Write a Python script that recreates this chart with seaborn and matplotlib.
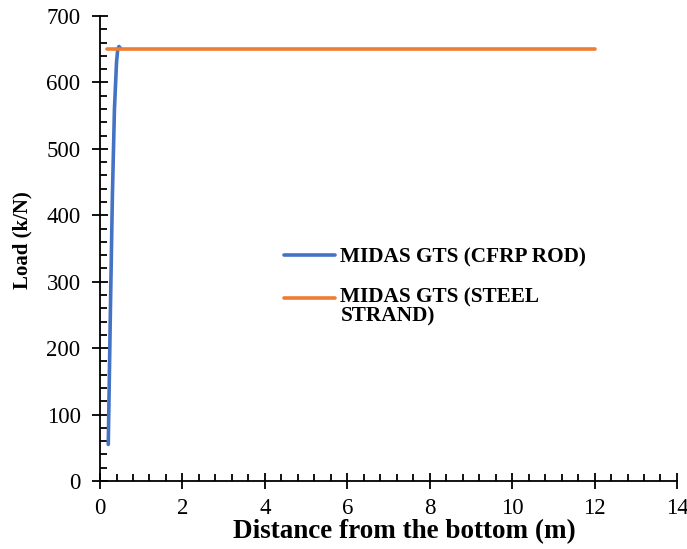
import matplotlib.pyplot as plt
import seaborn as sns
import pandas as pd
from matplotlib.ticker import MultipleLocator

# values
cfrp_dist = [0.2, 0.25, 0.3, 0.35, 0.4, 0.43, 0.46, 0.5]
cfrp_load = [55, 250, 430, 560, 630, 650, 654, 651]
steel_dist = [0.17, 2, 4, 6, 8, 10, 12]
steel_load = [650, 650, 650, 650, 650, 650, 650]

cfrp_label = "MIDAS GTS (CFRP ROD)"
steel_label = "MIDAS GTS (STEEL\nSTRAND)"

df = pd.concat([
    pd.DataFrame({"dist": cfrp_dist, "load": cfrp_load, "series": cfrp_label}),
    pd.DataFrame({"dist": steel_dist, "load": steel_load, "series": steel_label}),
])

sns.set_style("white", {"text.color": "black", "axes.labelcolor": "black",
                        "xtick.color": "black", "ytick.color": "black"})
plt.rcParams["font.family"] = ["Liberation Serif", "DejaVu Serif"]

fig = plt.figure(figsize=(6.87, 5.49), dpi=100)
ax = fig.add_axes([0.1456, 0.1239, 0.8398, 0.847])

sns.lineplot(data=df, x="dist", y="load", hue="series", sort=False,
             palette=["#4472C4", "#ED7D31"], linewidth=2.6, ax=ax)

ax.set_xlim(0, 14)
ax.set_ylim(0, 700)
ax.xaxis.set_major_locator(MultipleLocator(2))
ax.xaxis.set_minor_locator(MultipleLocator(0.4))
ax.yaxis.set_major_locator(MultipleLocator(100))
ax.yaxis.set_minor_locator(MultipleLocator(20))
ax.tick_params(which="major", direction="inout", length=12, width=1.3,
               labelsize=16.5, color="black", labelcolor="black", pad=6)
ax.tick_params(axis="y", which="major", pad=8)
ax.tick_params(which="minor", direction="in", length=5, width=1.3, color="black")
ax.tick_params(axis="x", which="both", bottom=True)
ax.tick_params(axis="y", which="both", left=True)

for s in ["top", "right"]:
    ax.spines[s].set_visible(False)
for s in ["left", "bottom"]:
    ax.spines[s].set_color("black")
    ax.spines[s].set_linewidth(1.3)

ax.set_xlabel("Distance from the bottom (m)", fontsize=19.5, fontweight="bold", color="black")
ax.set_ylabel("Load (k/N)", fontsize=15, fontweight="bold", color="black")
ax.xaxis.set_label_coords(0.528, -0.083)
ax.yaxis.set_label_coords(-0.117, 0.518)

leg = ax.legend(loc="upper left", bbox_to_anchor=(0.398, 0.568), bbox_transform=fig.transFigure,
                frameon=False, prop={"weight": "bold", "size": 15.3}, handlelength=2.4,
                handletextpad=0.25, labelspacing=0.95, borderpad=0)
for t in leg.get_texts():
    t.set_color("black")
leg.get_texts()[1].set_linespacing(0.9)
fig.canvas.draw()
# Excel puts the marker line level with the first text line
line = leg.get_lines()[1]
line.set_ydata([y + 6.5 for y in line.get_ydata()])

fig.savefig("out.png", dpi=100)
